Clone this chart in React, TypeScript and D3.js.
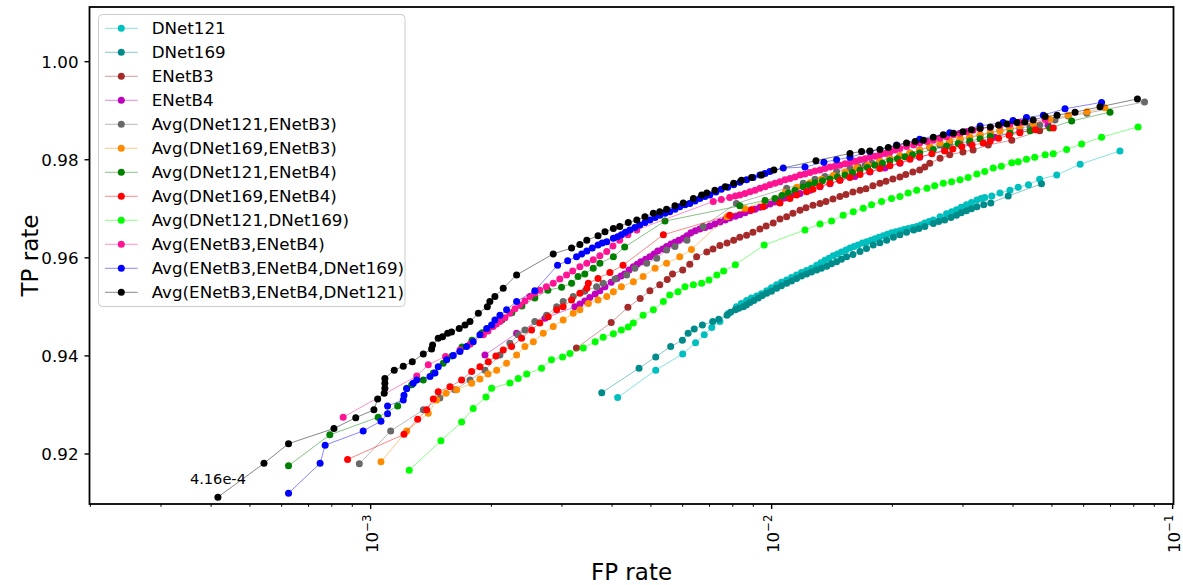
import React from 'react';
import * as d3 from 'd3';

type P = [number, number];

// ---------- data: [FP rate, TP rate] ----------
const dnet121: P[] = [
  [4.13e-3,0.9315],[5.14e-3,0.9371],[6.00e-3,0.9404],[6.46e-3,0.9427],[6.79e-3,0.9443],[7.09e-3,0.9458],[7.43e-3,0.9470],[7.78e-3,0.9486],[8.17e-3,0.9500],[8.40e-3,0.9507],[8.66e-3,0.9513],[8.90e-3,0.9518],[9.18e-3,0.9522],[9.43e-3,0.9527],[9.72e-3,0.9533],[9.99e-3,0.9539],[1.029e-2,0.9545],[1.058e-2,0.9550],[1.090e-2,0.9555],[1.121e-2,0.9560],[1.154e-2,0.9565],[1.187e-2,0.9570],[1.222e-2,0.9574],[1.257e-2,0.9579],[1.295e-2,0.9585],[1.327e-2,0.9590],[1.358e-2,0.9595],[1.390e-2,0.9599],[1.424e-2,0.9604],[1.459e-2,0.9608],[1.494e-2,0.9612],[1.532e-2,0.9616],[1.568e-2,0.9620],[1.605e-2,0.9623],[1.642e-2,0.9626],[1.684e-2,0.9630],[1.726e-2,0.9633],[1.769e-2,0.9636],[1.810e-2,0.9639],[1.852e-2,0.9642],[1.898e-2,0.9645],[1.945e-2,0.9648],[1.991e-2,0.9651],[2.041e-2,0.9653],[2.089e-2,0.9655],[2.139e-2,0.9658],[2.19e-2,0.9660],[2.246e-2,0.9662],[2.30e-2,0.9664],[2.356e-2,0.9667],[2.41e-2,0.9671],[2.47e-2,0.9674],[2.53e-2,0.9677],[2.63e-2,0.9684],[2.73e-2,0.9690],[2.81e-2,0.9694],[2.89e-2,0.9698],[2.97e-2,0.9703],[3.06e-2,0.9708],[3.15e-2,0.9713],[3.25e-2,0.9718],[3.33e-2,0.9721],[3.40e-2,0.9723],[3.54e-2,0.9726],[3.71e-2,0.9732],[3.93e-2,0.9738],[4.12e-2,0.9744],[4.37e-2,0.9749],[4.66e-2,0.9760],[5.14e-2,0.9769],[5.88e-2,0.9791],[7.39e-2,0.9818]
];
const dnet169: P[] = [
  [3.77e-3,0.9325],[4.67e-3,0.9375],[5.14e-3,0.9398],[5.60e-3,0.9419],[5.99e-3,0.9432],[6.19e-3,0.9446],[6.41e-3,0.9455],[6.72e-3,0.9463],[7.13e-3,0.9470],[7.38e-3,0.9475],[7.74e-3,0.9483],[7.90e-3,0.9489],[8.12e-3,0.9494],[8.28e-3,0.9497],[8.50e-3,0.9500],[8.65e-3,0.9504],[8.83e-3,0.9509],[9.03e-3,0.9513],[9.26e-3,0.9518],[9.48e-3,0.9523],[9.72e-3,0.9528],[9.99e-3,0.9532],[1.029e-2,0.9538],[1.058e-2,0.9543],[1.090e-2,0.9548],[1.121e-2,0.9553],[1.154e-2,0.9558],[1.187e-2,0.9563],[1.222e-2,0.9567],[1.257e-2,0.9571],[1.295e-2,0.9575],[1.331e-2,0.9579],[1.372e-2,0.9583],[1.410e-2,0.9588],[1.452e-2,0.9592],[1.493e-2,0.9597],[1.538e-2,0.9602],[1.595e-2,0.9607],[1.661e-2,0.9613],[1.724e-2,0.9619],[1.792e-2,0.9626],[1.862e-2,0.9631],[1.936e-2,0.9636],[2.012e-2,0.9642],[2.089e-2,0.9647],[2.17e-2,0.9652],[2.26e-2,0.9657],[2.33e-2,0.9660],[2.41e-2,0.9664],[2.53e-2,0.9670],[2.61e-2,0.9674],[2.70e-2,0.9677],[2.80e-2,0.9682],[2.89e-2,0.9687],[2.97e-2,0.9692],[3.06e-2,0.9696],[3.15e-2,0.9700],[3.25e-2,0.9704],[3.38e-2,0.9708],[3.52e-2,0.9712],[3.89e-2,0.9726],[4.71e-2,0.9751]
];
const enetB3: P[] = [
  [3.26e-3,0.9416],[3.98e-3,0.9468],[4.38e-3,0.9499],[4.70e-3,0.9517],[4.97e-3,0.9533],[5.26e-3,0.9545],[5.49e-3,0.9556],[5.66e-3,0.9567],[6.00e-3,0.9575],[6.25e-3,0.9587],[6.50e-3,0.9602],[6.89e-3,0.9612],[7.14e-3,0.9618],[7.43e-3,0.9625],[7.74e-3,0.9630],[8.04e-3,0.9636],[8.33e-3,0.9642],[8.66e-3,0.9646],[8.98e-3,0.9652],[9.35e-3,0.9659],[9.69e-3,0.9665],[1.009e-2,0.9671],[1.049e-2,0.9679],[1.090e-2,0.9684],[1.130e-2,0.9691],[1.177e-2,0.9697],[1.218e-2,0.9702],[1.268e-2,0.9707],[1.320e-2,0.9711],[1.366e-2,0.9715],[1.422e-2,0.9720],[1.480e-2,0.9725],[1.532e-2,0.9729],[1.595e-2,0.9734],[1.661e-2,0.9738],[1.719e-2,0.9741],[1.789e-2,0.9747],[1.862e-2,0.9752],[1.928e-2,0.9756],[2.006e-2,0.9761],[2.089e-2,0.9765],[2.160e-2,0.9770],[2.25e-2,0.9775],[2.34e-2,0.9779],[2.41e-2,0.9785],[2.48e-2,0.9793],[2.63e-2,0.9803],[2.78e-2,0.9810],[3.00e-2,0.9816],[3.18e-2,0.9820],[3.47e-2,0.9830],[3.97e-2,0.9840],[4.66e-2,0.9859]
];
const enetB4: P[] = [
  [1.928e-3,0.9402],[2.312e-3,0.9446],[2.72e-3,0.9477],[3.23e-3,0.9500],[3.325e-3,0.9506],[3.42e-3,0.9512],[3.52e-3,0.9519],[3.63e-3,0.9526],[3.73e-3,0.9533],[3.84e-3,0.9541],[3.98e-3,0.9550],[4.11e-3,0.9558],[4.21e-3,0.9563],[4.30e-3,0.9567],[4.41e-3,0.9575],[4.52e-3,0.9582],[4.62e-3,0.9587],[4.72e-3,0.9592],[4.85e-3,0.9597],[4.97e-3,0.9602],[5.09e-3,0.9608],[5.20e-3,0.9614],[5.35e-3,0.9618],[5.47e-3,0.9623],[5.61e-3,0.9628],[5.74e-3,0.9632],[5.87e-3,0.9636],[6.02e-3,0.9640],[6.15e-3,0.9645],[6.29e-3,0.9651],[6.45e-3,0.9655],[6.62e-3,0.9659],[6.82e-3,0.9662],[7.01e-3,0.9665],[7.22e-3,0.9669],[7.43e-3,0.9673],[7.66e-3,0.9677],[7.86e-3,0.9681],[8.12e-3,0.9685],[8.33e-3,0.9688],[8.58e-3,0.9692],[8.83e-3,0.9696],[9.09e-3,0.9699],[9.35e-3,0.9703],[9.63e-3,0.9706],[9.90e-3,0.9710],[1.019e-2,0.9714],[1.049e-2,0.9718],[1.080e-2,0.9722],[1.111e-2,0.9725],[1.143e-2,0.9729],[1.177e-2,0.9731],[1.246e-2,0.9738],[1.320e-2,0.9745],[1.398e-2,0.9751],[1.480e-2,0.9758],[1.613e-2,0.9766],[1.758e-2,0.9775],[1.916e-2,0.9783],[2.089e-2,0.9793],[2.34e-2,0.9805],[2.70e-2,0.9820],[3.12e-2,0.9834],[3.60e-2,0.9846],[4.16e-2,0.9859],[4.89e-2,0.9871]
];
const avgD121B3: P[] = [
  [9.37e-4,0.9180],[1.122e-3,0.9247],[1.353e-3,0.9290],[1.488e-3,0.9314],[1.623e-3,0.9331],[1.769e-3,0.9351],[1.928e-3,0.9371],[2.101e-3,0.9402],[2.225e-3,0.9426],[2.333e-3,0.9443],[2.425e-3,0.9453],[2.567e-3,0.9470],[2.746e-3,0.9483],[2.91e-3,0.9500],[3.02e-3,0.9511],[3.20e-3,0.9521],[3.42e-3,0.9532],[3.66e-3,0.9541],[3.80e-3,0.9548],[4.07e-3,0.9557],[4.35e-3,0.9565],[4.56e-3,0.9579],[4.88e-3,0.9589],[5.17e-3,0.9599],[5.47e-3,0.9616],[5.74e-3,0.9623],[6.15e-3,0.9636],[6.75e-3,0.9664],[8.17e-3,0.9711],[1.090e-2,0.9742],[1.199e-2,0.9752],[1.282e-2,0.9760],[1.358e-2,0.9766],[1.452e-2,0.9776],[1.568e-2,0.9782],[1.642e-2,0.9786],[1.710e-2,0.9789],[1.779e-2,0.9793],[1.862e-2,0.9797],[1.972e-2,0.9803],[2.089e-2,0.9808],[2.213e-2,0.9814],[2.34e-2,0.9820],[2.48e-2,0.9825],[2.63e-2,0.9830],[2.78e-2,0.9835],[2.95e-2,0.9840],[3.12e-2,0.9845],[3.31e-2,0.9850],[3.51e-2,0.9855],[3.71e-2,0.9859],[3.93e-2,0.9862],[4.16e-2,0.9865],[4.41e-2,0.9868],[4.66e-2,0.9871],[5.09e-2,0.9881],[5.49e-2,0.9889],[6.11e-2,0.9895],[8.51e-2,0.9918]
];
const avgD169B3: P[] = [
  [1.061e-3,0.9184],[1.230e-3,0.9247],[1.392e-3,0.9283],[1.461e-3,0.9310],[1.541e-3,0.9324],[1.639e-3,0.9331],[1.786e-3,0.9344],[1.873e-3,0.9353],[1.962e-3,0.9363],[2.062e-3,0.9371],[2.183e-3,0.9385],[2.312e-3,0.9402],[2.425e-3,0.9419],[2.545e-3,0.9429],[2.694e-3,0.9446],[2.853e-3,0.9460],[3.02e-3,0.9473],[3.20e-3,0.9487],[3.325e-3,0.9494],[3.49e-3,0.9507],[3.69e-3,0.9514],[3.88e-3,0.9521],[4.03e-3,0.9531],[4.22e-3,0.9541],[4.52e-3,0.9551],[4.78e-3,0.9562],[5.12e-3,0.9579],[5.47e-3,0.9589],[5.90e-3,0.9602],[6.31e-3,0.9617],[7.74e-3,0.9684],[8.58e-3,0.9700],[9.63e-3,0.9716],[1.080e-2,0.9733],[1.156e-2,0.9744],[1.246e-2,0.9753],[1.331e-2,0.9760],[1.424e-2,0.9768],[1.524e-2,0.9775],[1.629e-2,0.9784],[1.738e-2,0.9789],[1.862e-2,0.9797],[1.972e-2,0.9802],[2.089e-2,0.9808],[2.213e-2,0.9814],[2.34e-2,0.9820],[2.48e-2,0.9827],[2.63e-2,0.9834],[2.78e-2,0.9839],[2.95e-2,0.9844],[3.12e-2,0.9847],[3.31e-2,0.9851],[3.51e-2,0.9855],[3.71e-2,0.9859],[3.93e-2,0.9864],[4.16e-2,0.9869],[4.49e-2,0.9874],[4.94e-2,0.9882],[5.49e-2,0.9891],[6.12e-2,0.9898],[6.78e-2,0.9906]
];
const avgD121B4: P[] = [
  [6.24e-4,0.9176],[7.91e-4,0.9239],[1.044e-3,0.9275],[1.168e-3,0.9298],[1.230e-3,0.9334],[1.266e-3,0.9341],[1.353e-3,0.9351],[1.433e-3,0.9365],[1.517e-3,0.9385],[1.595e-3,0.9400],[1.690e-3,0.9418],[1.789e-3,0.9432],[1.896e-3,0.9447],[2.006e-3,0.9461],[2.125e-3,0.9473],[2.250e-3,0.9488],[2.383e-3,0.9502],[2.567e-3,0.9518],[2.767e-3,0.9534],[2.993e-3,0.9540],[3.170e-3,0.9548],[3.29e-3,0.9562],[3.42e-3,0.9567],[3.59e-3,0.9579],[3.73e-3,0.9589],[4.03e-3,0.9602],[4.30e-3,0.9622],[5.42e-3,0.9675],[8.33e-3,0.9706],[9.63e-3,0.9717],[1.019e-2,0.9721],[1.061e-2,0.9727],[1.100e-2,0.9732],[1.143e-2,0.9738],[1.199e-2,0.9745],[1.239e-2,0.9749],[1.282e-2,0.9753],[1.339e-2,0.9757],[1.398e-2,0.9761],[1.459e-2,0.9765],[1.524e-2,0.9769],[1.590e-2,0.9774],[1.661e-2,0.9779],[1.733e-2,0.9784],[1.810e-2,0.9789],[1.889e-2,0.9793],[1.972e-2,0.9798],[2.059e-2,0.9802],[2.15e-2,0.9806],[2.246e-2,0.9810],[2.34e-2,0.9814],[2.53e-2,0.9821],[2.73e-2,0.9828],[2.92e-2,0.9833],[3.12e-2,0.9838],[3.31e-2,0.9843],[3.51e-2,0.9848],[3.93e-2,0.9854],[4.41e-2,0.9859],[4.94e-2,0.9865],[5.60e-2,0.9879],[6.98e-2,0.9897]
];
const avgD169B4: P[] = [
  [8.76e-4,0.9189],[1.211e-3,0.9240],[1.310e-3,0.9271],[1.379e-3,0.9290],[1.433e-3,0.9312],[1.474e-3,0.9327],[1.577e-3,0.9337],[1.686e-3,0.9351],[1.786e-3,0.9368],[1.873e-3,0.9378],[1.965e-3,0.9388],[2.053e-3,0.9400],[2.141e-3,0.9412],[2.246e-3,0.9419],[2.379e-3,0.9436],[2.52e-3,0.9453],[2.642e-3,0.9467],[2.772e-3,0.9480],[2.91e-3,0.9494],[3.02e-3,0.9500],[3.170e-3,0.9514],[3.325e-3,0.9528],[3.46e-3,0.9538],[3.49e-3,0.9548],[3.69e-3,0.9558],[3.95e-3,0.9570],[4.26e-3,0.9585],[5.37e-3,0.9647],[7.86e-3,0.9687],[8.91e-3,0.9698],[9.52e-3,0.9704],[1.049e-2,0.9712],[1.111e-2,0.9721],[1.154e-2,0.9728],[1.222e-2,0.9735],[1.268e-2,0.9740],[1.320e-2,0.9746],[1.398e-2,0.9752],[1.480e-2,0.9758],[1.568e-2,0.9764],[1.661e-2,0.9770],[1.758e-2,0.9776],[1.862e-2,0.9782],[1.972e-2,0.9788],[2.089e-2,0.9794],[2.213e-2,0.9801],[2.34e-2,0.9806],[2.51e-2,0.9812],[2.70e-2,0.9818],[2.83e-2,0.9822],[2.98e-2,0.9827],[3.16e-2,0.9830],[3.37e-2,0.9834],[3.51e-2,0.9838],[3.68e-2,0.9844],[3.91e-2,0.9850],[4.16e-2,0.9855],[4.55e-2,0.9861],[5.04e-2,0.9865]
];
const avgD121D169: P[] = [
  [1.248e-3,0.9167],[1.497e-3,0.9227],[1.686e-3,0.9265],[1.802e-3,0.9293],[1.939e-3,0.9316],[2.003e-3,0.9334],[2.225e-3,0.9345],[2.333e-3,0.9354],[2.450e-3,0.9363],[2.668e-3,0.9375],[2.825e-3,0.9392],[3.01e-3,0.9398],[3.14e-3,0.9405],[3.39e-3,0.9416],[3.63e-3,0.9429],[3.80e-3,0.9438],[4.03e-3,0.9445],[4.22e-3,0.9453],[4.39e-3,0.9459],[4.52e-3,0.9467],[4.78e-3,0.9483],[5.07e-3,0.9494],[5.37e-3,0.9511],[5.57e-3,0.9524],[5.84e-3,0.9531],[6.08e-3,0.9541],[6.38e-3,0.9545],[6.69e-3,0.9548],[6.98e-3,0.9555],[7.30e-3,0.9565],[7.59e-3,0.9573],[8.12e-3,0.9586],[9.58e-3,0.9626],[1.211e-2,0.9657],[1.320e-2,0.9669],[1.411e-2,0.9675],[1.508e-2,0.9687],[1.598e-2,0.9694],[1.692e-2,0.9701],[1.775e-2,0.9708],[1.880e-2,0.9715],[1.991e-2,0.9721],[2.089e-2,0.9725],[2.19e-2,0.9732],[2.30e-2,0.9738],[2.44e-2,0.9742],[2.55e-2,0.9747],[2.68e-2,0.9752],[2.81e-2,0.9755],[2.95e-2,0.9759],[3.09e-2,0.9764],[3.25e-2,0.9771],[3.40e-2,0.9776],[3.57e-2,0.9783],[3.74e-2,0.9787],[3.97e-2,0.9794],[4.12e-2,0.9796],[4.32e-2,0.9801],[4.53e-2,0.9805],[4.81e-2,0.9810],[5.04e-2,0.9812],[5.44e-2,0.9821],[5.93e-2,0.9832],[6.65e-2,0.9846],[8.20e-2,0.9867]
];
const avgB3B4: P[] = [
  [8.54e-4,0.9275],[1.303e-3,0.9359],[1.392e-3,0.9382],[1.537e-3,0.9399],[1.670e-3,0.9412],[1.769e-3,0.9424],[1.910e-3,0.9443],[1.962e-3,0.9451],[2.021e-3,0.9460],[2.059e-3,0.9465],[2.101e-3,0.9470],[2.163e-3,0.9478],[2.225e-3,0.9487],[2.291e-3,0.9496],[2.356e-3,0.9504],[2.425e-3,0.9512],[2.495e-3,0.9521],[2.567e-3,0.9528],[2.642e-3,0.9534],[2.743e-3,0.9541],[2.853e-3,0.9548],[2.963e-3,0.9557],[3.08e-3,0.9565],[3.19e-3,0.9573],[3.325e-3,0.9582],[3.46e-3,0.9589],[3.59e-3,0.9596],[3.73e-3,0.9604],[3.88e-3,0.9613],[4.02e-3,0.9624],[4.18e-3,0.9636],[4.38e-3,0.9647],[4.61e-3,0.9657],[7.15e-3,0.9715],[7.49e-3,0.9719],[7.86e-3,0.9723],[8.12e-3,0.9726],[8.33e-3,0.9728],[8.58e-3,0.9731],[8.83e-3,0.9735],[9.09e-3,0.9738],[9.35e-3,0.9742],[9.63e-3,0.9745],[9.90e-3,0.9749],[1.019e-2,0.9752],[1.049e-2,0.9755],[1.080e-2,0.9759],[1.111e-2,0.9762],[1.143e-2,0.9765],[1.177e-2,0.9769],[1.211e-2,0.9771],[1.246e-2,0.9774],[1.282e-2,0.9777],[1.320e-2,0.9779],[1.358e-2,0.9782],[1.398e-2,0.9785],[1.438e-2,0.9787],[1.480e-2,0.9789],[1.524e-2,0.9792],[1.568e-2,0.9794],[1.613e-2,0.9797],[1.661e-2,0.9800],[1.710e-2,0.9802],[1.758e-2,0.9805],[1.810e-2,0.9807],[1.862e-2,0.9810],[1.916e-2,0.9813],[1.972e-2,0.9816],[2.030e-2,0.9820],[2.089e-2,0.9823],[2.17e-2,0.9827],[2.26e-2,0.9830],[2.34e-2,0.9834],[2.44e-2,0.9837],[2.53e-2,0.9840],[2.63e-2,0.9844],[2.73e-2,0.9847],[2.84e-2,0.9851],[2.95e-2,0.9854],[3.06e-2,0.9857],[3.18e-2,0.9860],[3.31e-2,0.9863],[3.51e-2,0.9866],[3.71e-2,0.9870],[3.93e-2,0.9873],[4.16e-2,0.9876],[4.81e-2,0.9882]
];
const avgB3B4D169: P[] = [
  [6.24e-4,0.9120],[7.48e-4,0.9181],[7.70e-4,0.9218],[9.58e-4,0.9247],[1.061e-3,0.9267],[1.102e-3,0.9282],[1.102e-3,0.9298],[1.206e-3,0.9310],[1.211e-3,0.9320],[1.230e-3,0.9333],[1.277e-3,0.9344],[1.303e-3,0.9351],[1.406e-3,0.9358],[1.447e-3,0.9365],[1.474e-3,0.9378],[1.547e-3,0.9392],[1.607e-3,0.9401],[1.670e-3,0.9409],[1.735e-3,0.9419],[1.802e-3,0.9429],[1.873e-3,0.9443],[1.947e-3,0.9456],[2.003e-3,0.9463],[2.041e-3,0.9473],[2.101e-3,0.9483],[2.183e-3,0.9494],[2.312e-3,0.9511],[2.567e-3,0.9533],[2.925e-3,0.9585],[3.10e-3,0.9594],[3.262e-3,0.9602],[3.36e-3,0.9608],[3.46e-3,0.9614],[3.57e-3,0.9620],[3.69e-3,0.9626],[3.78e-3,0.9630],[3.88e-3,0.9633],[4.03e-3,0.9640],[4.13e-3,0.9643],[4.22e-3,0.9647],[4.32e-3,0.9652],[4.43e-3,0.9657],[4.56e-3,0.9662],[4.69e-3,0.9667],[4.83e-3,0.9672],[4.97e-3,0.9677],[5.12e-3,0.9682],[5.26e-3,0.9687],[5.42e-3,0.9691],[5.57e-3,0.9694],[5.74e-3,0.9699],[5.90e-3,0.9704],[6.08e-3,0.9708],[6.25e-3,0.9711],[6.44e-3,0.9716],[6.62e-3,0.9721],[6.82e-3,0.9725],[7.01e-3,0.9728],[7.26e-3,0.9734],[7.49e-3,0.9740],[7.77e-3,0.9744],[8.04e-3,0.9749],[8.33e-3,0.9754],[8.66e-3,0.9759],[8.99e-3,0.9764],[9.35e-3,0.9769],[9.63e-3,0.9772],[9.90e-3,0.9776],[1.069e-2,0.9783],[1.211e-2,0.9785],[1.350e-2,0.9795],[1.452e-2,0.9800],[1.568e-2,0.9805],[1.758e-2,0.9817],[2.05e-2,0.9830],[2.34e-2,0.9842],[2.78e-2,0.9855],[3.31e-2,0.9869],[3.78e-2,0.9876],[4.00e-2,0.9880],[4.32e-2,0.9886],[4.76e-2,0.9891],[5.39e-2,0.9904],[6.65e-2,0.9917]
];
const avgB3B4D121: P[] = [
  [4.16e-4,0.9112],[5.42e-4,0.9181],[6.24e-4,0.9221],[8.10e-4,0.9252],[9.18e-4,0.9274],[1.019e-3,0.9290],[1.041e-3,0.9312],[1.081e-3,0.9324],[1.085e-3,0.9334],[1.085e-3,0.9344],[1.085e-3,0.9354],[1.145e-3,0.9371],[1.206e-3,0.9379],[1.270e-3,0.9388],[1.353e-3,0.9404],[1.419e-3,0.9414],[1.427e-3,0.9422],[1.474e-3,0.9436],[1.511e-3,0.9439],[1.556e-3,0.9446],[1.591e-3,0.9449],[1.663e-3,0.9456],[1.719e-3,0.9463],[1.769e-3,0.9470],[1.856e-3,0.9487],[1.954e-3,0.9500],[1.983e-3,0.9511],[2.041e-3,0.9521],[2.141e-3,0.9538],[2.312e-3,0.9565],[2.853e-3,0.9608],[3.170e-3,0.9620],[3.325e-3,0.9627],[3.46e-3,0.9636],[3.69e-3,0.9645],[3.84e-3,0.9653],[4.03e-3,0.9660],[4.18e-3,0.9664],[4.39e-3,0.9672],[4.61e-3,0.9677],[4.83e-3,0.9684],[5.07e-3,0.9691],[5.26e-3,0.9694],[5.47e-3,0.9699],[5.74e-3,0.9706],[6.02e-3,0.9712],[6.38e-3,0.9721],[6.69e-3,0.9728],[6.89e-3,0.9732],[7.22e-3,0.9738],[7.66e-3,0.9745],[8.04e-3,0.9752],[8.41e-3,0.9758],[8.91e-3,0.9764],[9.44e-3,0.9769],[1.013e-2,0.9779],[1.290e-2,0.9798],[1.568e-2,0.9813],[1.676e-2,0.9817],[1.758e-2,0.9818],[1.862e-2,0.9821],[1.954e-2,0.9825],[2.05e-2,0.9829],[2.17e-2,0.9834],[2.28e-2,0.9837],[2.39e-2,0.9840],[2.53e-2,0.9846],[2.68e-2,0.9851],[2.84e-2,0.9854],[3.00e-2,0.9857],[3.15e-2,0.9861],[3.31e-2,0.9864],[3.51e-2,0.9867],[3.68e-2,0.9871],[3.86e-2,0.9873],[4.09e-2,0.9876],[4.28e-2,0.9877],[4.49e-2,0.9881],[4.81e-2,0.9888],[5.15e-2,0.9891],[5.71e-2,0.9897],[6.59e-2,0.9908],[8.17e-2,0.9924]
];

const seriesNames = [
  'DNet121','DNet169','ENetB3','ENetB4',
  'Avg(DNet121,ENetB3)','Avg(DNet169,ENetB3)','Avg(DNet121,ENetB4)','Avg(DNet169,ENetB4)',
  'Avg(DNet121,DNet169)','Avg(ENetB3,ENetB4)','Avg(ENetB3,ENetB4,DNet169)','Avg(ENetB3,ENetB4,DNet121)'
];
const seriesData: P[][] = [dnet121, dnet169, enetB3, enetB4, avgD121B3, avgD169B3, avgD121B4, avgD169B4, avgD121D169, avgB3B4, avgB3B4D169, avgB3B4D121];
const seriesColors = ['#00bfbf','#008b8b','#a52a2a','#bf00bf','#696969','#ff8c00','#008000','#ff0000','#00ff00','#ff1493','#0000ff','#000000'];

const yTickValues = [0.92, 0.94, 0.96, 0.98, 1.00];
const xDomain: [number, number] = [1.99e-4, 0.1005];
const yDomain: [number, number] = [0.9098, 1.01115];
const annotationPoint: P = [4.16e-4, 0.9112];
const annotationText = '4.16e-4';

const FONT = 'DejaVu Sans';

export default function App() {
  const W = 1183, H = 585;
  const L = 89.5, R = 1173.5, T = 7, B = 504;
  const x = d3.scaleLog().domain(xDomain).range([L, R]);
  const y = d3.scaleLinear().domain(yDomain).range([B, T]);
  const line = d3.line<P>().x(d => x(d[0])).y(d => y(d[1]));

  const xTicks = x.ticks();
  const isMajor = (v: number) => Math.abs(Math.log10(v) - Math.round(Math.log10(v))) < 1e-9;

  const legendX = 98.5, legendY = 14.5, legendW = 306.5, legendH = 292;
  const rowY = (i: number) => 28.3 + i * 24.0;
  const MR = 3.5;

  return (
    <svg width={W} height={H} style={{ position: 'absolute', left: 0, top: 0, background: '#fff' }} fontFamily={FONT}>
      <rect x={0} y={0} width={W} height={H} fill="#fff" />
      <defs>
        <clipPath id="plotclip"><rect x={L} y={T} width={R - L} height={B - T} /></clipPath>
      </defs>
      <g clipPath="url(#plotclip)">
        {seriesData.map((s, i) => (
          <g key={i}>
            <path d={line(s) || ''} fill="none" stroke={seriesColors[i]} strokeWidth={0.8} strokeOpacity={0.6} />
            {s.map((d, j) => (
              <circle key={j} cx={x(d[0])} cy={y(d[1])} r={MR} fill={seriesColors[i]} />
            ))}
          </g>
        ))}
      </g>
      {/* annotation */}
      <text x={x(annotationPoint[0])} y={y(annotationPoint[1]) - 13} fontSize={14.6} textAnchor="middle" fill="#000">{annotationText}</text>

      {/* axes frame */}
      <rect x={L} y={T} width={R - L} height={B - T} fill="none" stroke="#000" strokeWidth={1.8} />

      {/* x ticks */}
      {xTicks.map((v, i) => {
        const major = isMajor(v);
        const px = x(v);
        return (
          <g key={i}>
            <line x1={px} x2={px} y1={B} y2={B + (major ? 5 : 2.8)} stroke="#000" strokeWidth={major ? 1.4 : 1} />
            {major && (
              <text transform={`translate(${px + 7},${B + 49}) rotate(-90)`} textAnchor="start" fontSize={16.7} fill="#000">
                10<tspan fontSize={11.7} dy={-7}>{'\u2212' + String(-Math.round(Math.log10(v)))}</tspan>
              </text>
            )}
          </g>
        );
      })}

      {/* y ticks */}
      {yTickValues.map((v, i) => (
        <g key={i}>
          <line x1={L - 5} x2={L} y1={y(v)} y2={y(v)} stroke="#000" strokeWidth={1.4} />
          <text x={L - 11} y={y(v)} dy="0.36em" textAnchor="end" fontSize={16.7} fill="#000">{v.toFixed(2)}</text>
        </g>
      ))}

      {/* axis labels */}
      <text x={(L + R) / 2} y={580} textAnchor="middle" fontSize={23} fill="#000">FP rate</text>
      <text transform={`translate(38,${(T + B) / 2}) rotate(-90)`} textAnchor="middle" fontSize={23} fill="#000">TP rate</text>

      {/* legend */}
      <rect x={legendX} y={legendY} width={legendW} height={legendH} rx={4} fill="#fff" fillOpacity={0.8} stroke="#cccccc" strokeWidth={1} />
      {seriesNames.map((name, i) => (
        <g key={i}>
          <line x1={105} x2={137.7} y1={rowY(i)} y2={rowY(i)} stroke={seriesColors[i]} strokeWidth={0.8} strokeOpacity={0.6} />
          <circle cx={121.3} cy={rowY(i)} r={MR} fill={seriesColors[i]} />
          <text x={151.7} y={rowY(i)} dy="0.36em" fontSize={16.7} fill="#000">{name}</text>
        </g>
      ))}
    </svg>
  );
}
